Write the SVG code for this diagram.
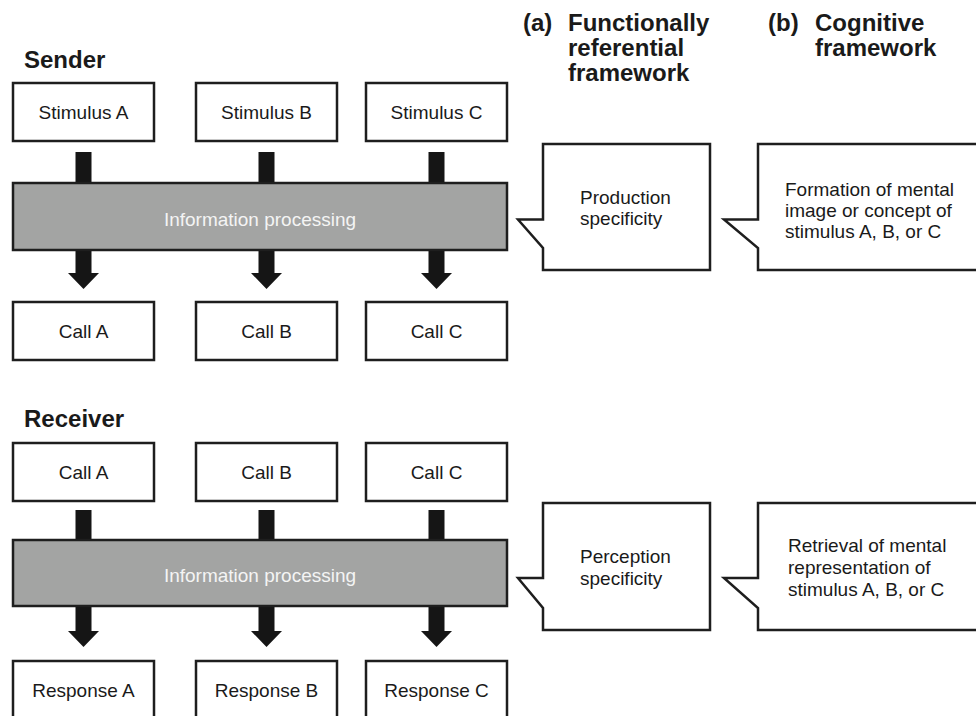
<svg xmlns="http://www.w3.org/2000/svg" width="976" height="716" viewBox="0 0 976 716">
<style>
.box{fill:#fff;stroke:#1e1e1e;stroke-width:2.5}
.proc{fill:#a3a4a3;stroke:#1e1e1e;stroke-width:2.5}
.t{font-family:"Liberation Sans",Arial,sans-serif;font-size:19px;fill:#1a1a1a}
.c{text-anchor:middle}
.w{fill:#f4f4f4}
.h{font-family:"Liberation Sans",Arial,sans-serif;font-size:24px;font-weight:bold;fill:#1a1a1a}
.arr{fill:#151515}
.call{fill:#fff;stroke:#1e1e1e;stroke-width:2.5;stroke-linejoin:miter}
</style>
<rect width="976" height="716" fill="#fff"/>

<g id="headings">
<text class="h" x="24" y="68">Sender</text>
<text class="h" x="24" y="427">Receiver</text>
<text class="h" x="523" y="31">(a)</text>
<text class="h" x="568" y="31">Functionally</text>
<text class="h" x="568" y="56">referential</text>
<text class="h" x="568" y="81">framework</text>
<text class="h" x="768" y="31">(b)</text>
<text class="h" x="815" y="31">Cognitive</text>
<text class="h" x="815" y="56">framework</text>
</g>

<g id="connectors">
<rect class="arr" x="75.5" y="152" width="16" height="32"/>
<rect class="arr" x="258.5" y="152" width="16" height="32"/>
<rect class="arr" x="428.5" y="152" width="16" height="32"/>
<path class="arr" d="M75.5 249 H91.5 V273 H99 L83.5 289 L68 273 H75.5 Z"/>
<path class="arr" d="M258.5 249 H274.5 V273 H282 L266.5 289 L251 273 H258.5 Z"/>
<path class="arr" d="M428.5 249 H444.5 V273 H452 L436.5 289 L421 273 H428.5 Z"/>
<rect class="arr" x="75.5" y="510" width="16" height="32"/>
<rect class="arr" x="258.5" y="510" width="16" height="32"/>
<rect class="arr" x="428.5" y="510" width="16" height="32"/>
<path class="arr" d="M75.5 605 H91.5 V631 H99 L83.5 647 L68 631 H75.5 Z"/>
<path class="arr" d="M258.5 605 H274.5 V631 H282 L266.5 647 L251 631 H258.5 Z"/>
<path class="arr" d="M428.5 605 H444.5 V631 H452 L436.5 647 L421 631 H428.5 Z"/>
</g>

<g id="stimA"><rect class="box" x="13" y="83" width="141" height="58"/><text class="t c" x="83.5" y="119">Stimulus A</text></g>
<g id="stimB"><rect class="box" x="196" y="83" width="141" height="58"/><text class="t c" x="266.5" y="119">Stimulus B</text></g>
<g id="stimC"><rect class="box" x="366" y="83" width="141" height="58"/><text class="t c" x="436.5" y="119">Stimulus C</text></g>

<g id="procSender"><rect class="proc" x="13" y="183" width="494" height="67"/><text class="t c w" x="260" y="226">Information processing</text></g>

<g id="callA1"><rect class="box" x="13" y="302" width="141" height="58"/><text class="t c" x="83.5" y="338">Call A</text></g>
<g id="callB1"><rect class="box" x="196" y="302" width="141" height="58"/><text class="t c" x="266.5" y="338">Call B</text></g>
<g id="callC1"><rect class="box" x="366" y="302" width="141" height="58"/><text class="t c" x="436.5" y="338">Call C</text></g>

<g id="callA2"><rect class="box" x="13" y="443" width="141" height="58"/><text class="t c" x="83.5" y="479">Call A</text></g>
<g id="callB2"><rect class="box" x="196" y="443" width="141" height="58"/><text class="t c" x="266.5" y="479">Call B</text></g>
<g id="callC2"><rect class="box" x="366" y="443" width="141" height="58"/><text class="t c" x="436.5" y="479">Call C</text></g>

<g id="procReceiver"><rect class="proc" x="13" y="540" width="494" height="66"/><text class="t c w" x="260" y="582">Information processing</text></g>

<g id="respA"><rect class="box" x="13" y="661" width="141" height="58"/><text class="t c" x="83.5" y="697">Response A</text></g>
<g id="respB"><rect class="box" x="196" y="661" width="141" height="58"/><text class="t c" x="266.5" y="697">Response B</text></g>
<g id="respC"><rect class="box" x="366" y="661" width="141" height="58"/><text class="t c" x="436.5" y="697">Response C</text></g>

<g id="calloutProduction">
<path class="call" d="M543 144 H710 V270 H543 V248 L518 219.5 H543 Z"/>
<text class="t" x="580" y="204">Production</text>
<text class="t" x="580" y="225">specificity</text>
</g>
<g id="calloutFormation">
<path class="call" d="M758 144 H990 V270 H758 V248 L724 219.5 H758 Z"/>
<text class="t" x="785" y="196">Formation of mental</text>
<text class="t" x="785" y="217">image or concept of</text>
<text class="t" x="785" y="238">stimulus A, B, or C</text>
</g>
<g id="calloutPerception">
<path class="call" d="M543 503 H710 V630 H543 V608 L518 578 H543 Z"/>
<text class="t" x="580" y="563">Perception</text>
<text class="t" x="580" y="585">specificity</text>
</g>
<g id="calloutRetrieval">
<path class="call" d="M758 503 H990 V630 H758 V608 L724 578 H758 Z"/>
<text class="t" x="788" y="552">Retrieval of mental</text>
<text class="t" x="788" y="574">representation of</text>
<text class="t" x="788" y="596">stimulus A, B, or C</text>
</g>
</svg>
